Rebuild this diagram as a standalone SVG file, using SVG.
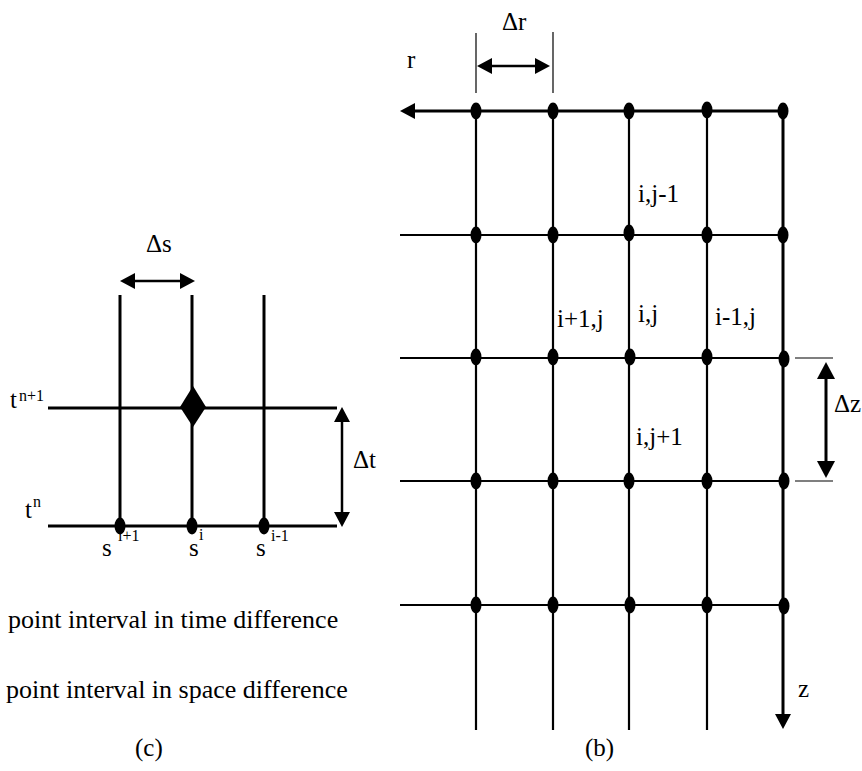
<svg xmlns="http://www.w3.org/2000/svg" width="862" height="771" viewBox="0 0 862 771">
<style>
  text { font-family: "Liberation Serif", "Times New Roman", serif; fill: #000; }
  .lbl { font-size: 25px; }
  .sup { font-size: 16px; }
  .cap { font-size: 26px; }
  .thick { stroke: #000; stroke-width: 3; fill: none; }
  .grid { stroke: #000; stroke-width: 2.2; fill: none; }
  .thin { stroke: #000; stroke-width: 1.2; fill: none; }
  .dot { fill: #000; }
</style>
<defs>
  <marker id="ah" markerUnits="userSpaceOnUse" viewBox="0 0 15 16" markerWidth="15" markerHeight="16" refX="11" refY="8" orient="auto-start-reverse">
    <path d="M0,0 L15,8 L0,16 Z" fill="#000"/>
  </marker>
  <marker id="ahL" markerUnits="userSpaceOnUse" viewBox="0 0 17 18" markerWidth="17" markerHeight="18" refX="13" refY="9" orient="auto-start-reverse">
    <path d="M0,0 L17,9 L0,18 Z" fill="#000"/>
  </marker>
</defs>
<rect width="862" height="771" fill="#fff"/>

<!-- Panel (c) -->
<g id="panel-c-grid">
  <line class="thick" x1="48" y1="408" x2="337" y2="408"/>
  <line class="thick" x1="48" y1="526" x2="337" y2="526"/>
  <line class="thick" x1="120" y1="295" x2="120" y2="526"/>
  <line class="thick" x1="192" y1="295" x2="192" y2="526"/>
  <line class="thick" x1="264" y1="295" x2="264" y2="526"/>
</g>
<g id="node-diamond">
  <polygon points="193,386 206,407 193,427 180,407" fill="#000"/>
</g>
<g id="nodes-c">
  <ellipse class="dot" cx="120" cy="526" rx="5.5" ry="8.5"/>
  <ellipse class="dot" cx="192" cy="526" rx="5.5" ry="8.5"/>
  <ellipse class="dot" cx="264" cy="526" rx="5.5" ry="8.5"/>
</g>
<g id="labels-c">
  <text class="lbl" x="146" y="252">Δs</text>
  <text class="lbl" x="353" y="468">Δt</text>
  <text class="lbl" x="10" y="408">t</text><text class="sup" x="19" y="401">n+1</text>
  <text class="lbl" x="25" y="518">t</text><text class="sup" x="33" y="507">n</text>
  <text class="lbl" x="102" y="556">s</text><text class="sup" x="118" y="541">i+1</text>
  <text class="lbl" x="189" y="556">s</text><text class="sup" x="199" y="540">i</text>
  <text class="lbl" x="256" y="556">s</text><text class="sup" x="271" y="541">i-1</text>
  <text class="cap" x="8" y="628">point interval in time difference</text>
  <text class="cap" x="6" y="698">point interval in space difference</text>
  <text class="lbl" x="135" y="756">(c)</text>
</g>

<!-- Panel (b) -->
<g id="panel-b-grid">
  <line class="grid" x1="400" y1="235" x2="783" y2="235"/>
  <line class="grid" x1="400" y1="358" x2="783" y2="358"/>
  <line class="grid" x1="400" y1="481" x2="783" y2="481"/>
  <line class="grid" x1="400" y1="605" x2="783" y2="605"/>
  <line class="grid" x1="476" y1="111" x2="476" y2="730"/>
  <line class="grid" x1="553" y1="111" x2="553" y2="730"/>
  <line class="grid" x1="629" y1="111" x2="629" y2="730"/>
  <line class="grid" x1="707" y1="111" x2="707" y2="730"/>
</g>
<g id="nodes-b" class="dot">
  <ellipse cx="476" cy="111" rx="5.5" ry="8.5"/><ellipse cx="553" cy="111" rx="5.5" ry="8.5"/><ellipse cx="629" cy="111" rx="5.5" ry="8.5"/><ellipse cx="707" cy="110" rx="5.5" ry="8.5"/><ellipse cx="783" cy="111" rx="5.5" ry="8.5"/>
  <ellipse cx="476" cy="235" rx="5.5" ry="8.5"/><ellipse cx="553" cy="235" rx="5.5" ry="8.5"/><ellipse cx="629" cy="233" rx="5.5" ry="8.5"/><ellipse cx="707" cy="235" rx="5.5" ry="8.5"/><ellipse cx="783" cy="235" rx="5.5" ry="8.5"/>
  <ellipse cx="476" cy="357" rx="5.5" ry="8.5"/><ellipse cx="553" cy="357" rx="5.5" ry="8.5"/><ellipse cx="630" cy="357" rx="5.5" ry="8.5"/><ellipse cx="707" cy="357" rx="5.5" ry="8.5"/><ellipse cx="784" cy="359" rx="5.5" ry="8.5"/>
  <ellipse cx="476" cy="481" rx="5.5" ry="8.5"/><ellipse cx="553" cy="481" rx="5.5" ry="8.5"/><ellipse cx="629" cy="481" rx="5.5" ry="8.5"/><ellipse cx="707" cy="481" rx="5.5" ry="8.5"/><ellipse cx="784" cy="481" rx="5.5" ry="8.5"/>
  <ellipse cx="476" cy="605" rx="5.5" ry="8.5"/><ellipse cx="553" cy="605" rx="5.5" ry="8.5"/><ellipse cx="630" cy="605" rx="5.5" ry="8.5"/><ellipse cx="707" cy="605" rx="5.5" ry="8.5"/><ellipse cx="784" cy="606" rx="5.5" ry="8.5"/>
</g>
<g id="labels-b">
  <text class="lbl" x="502" y="30">Δr</text>
  <text class="lbl" x="407" y="68">r</text>
  <text class="lbl" x="834" y="412">Δz</text>
  <text class="lbl" x="798" y="697">z</text>
  <text class="lbl" x="638" y="202">i,j-1</text>
  <text class="lbl" x="557" y="327">i+1,j</text>
  <text class="lbl" x="638" y="322">i,j</text>
  <text class="lbl" x="715" y="325">i-1,j</text>
  <text class="lbl" x="636" y="445">i,j+1</text>
  <text class="lbl" x="585" y="756">(b)</text>
</g>
<g id="dimension-ticks">
  <line class="thin" x1="476" y1="33" x2="476" y2="93"/>
  <line class="thin" x1="553" y1="32" x2="553" y2="93"/>
  <line class="thin" x1="795" y1="358" x2="833" y2="358"/>
  <line class="thin" x1="795" y1="481" x2="833" y2="481"/>
</g>

<g id="connectors">
  <!-- Δs -->
  <line stroke="#000" stroke-width="2.5" x1="124" y1="281" x2="191" y2="281" marker-start="url(#ah)" marker-end="url(#ah)"/>
  <!-- Δt -->
  <line stroke="#000" stroke-width="2.5" x1="342" y1="411" x2="342" y2="523" marker-start="url(#ah)" marker-end="url(#ah)"/>
  <!-- r axis (top row) -->
  <line stroke="#000" stroke-width="3" x1="783" y1="111" x2="404" y2="111" marker-end="url(#ah)"/>
  <!-- z axis (last column) -->
  <line stroke="#000" stroke-width="3" x1="783" y1="111" x2="783" y2="725" marker-end="url(#ah)"/>
  <!-- Δr -->
  <line stroke="#000" stroke-width="2.5" x1="481" y1="66" x2="546" y2="66" marker-start="url(#ah)" marker-end="url(#ah)"/>
  <!-- Δz -->
  <line stroke="#000" stroke-width="3" x1="826" y1="366" x2="826" y2="474" marker-start="url(#ahL)" marker-end="url(#ahL)"/>
</g>
</svg>
